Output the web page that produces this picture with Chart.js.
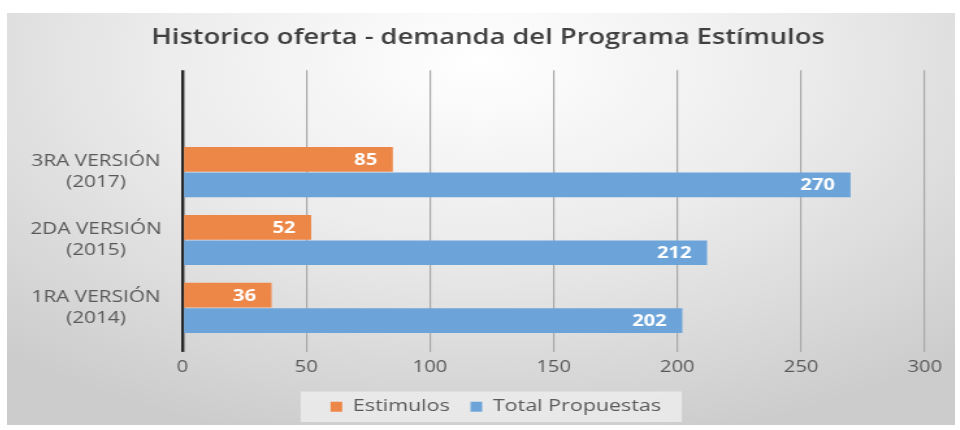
<!DOCTYPE html>
<html>
<head>
<meta charset="utf-8">
<script src="https://cdn.jsdelivr.net/npm/chart.js@4.4.0/dist/chart.umd.min.js"></script>
<style>
html, body { margin: 0; padding: 0; background: #fff; overflow: hidden; }
#panel {
  position: absolute; left: 7px; top: 13px; width: 948px; height: 412px;
  background: radial-gradient(ellipse 75% 95% at 50% 12%, #ffffff 0%, #ececec 45%, #cccccc 100%);
}
/* the original picture is stretched sideways, so the canvas is too */
#myChart { transform: scaleX(1.3); transform-origin: 0 0; }
</style>
</head>
<body>
<div id="panel"><canvas id="myChart" width="729" height="412"></canvas></div>
<script>
// chart data (top slot is empty in the original)
let categories = [[''], ['3RA VERSIÓN', '(2017)'], ['2DA VERSIÓN', '(2015)'], ['1RA VERSIÓN', '(2014)']];
let estimulos = [null, 85, 52, 36];
let totalPropuestas = [null, 270, 212, 202];
let xTicks = [0, 50, 100, 150, 200, 250, 300];

let font = 'Open Sans';
let textColor = '#595959';
let titleShift = 17;  // title sits a bit right of the canvas centre
let legendShift = 23; // so does the legend

// white value labels at the inner end of each bar
let valueLabels = {
    id: 'valueLabels',
    afterDatasetsDraw(chart) {
        let ctx = chart.ctx;
        ctx.save();
        ctx.font = 'bold 15.5px "' + font + '"';
        ctx.fillStyle = '#ffffff';
        ctx.textAlign = 'right';
        ctx.textBaseline = 'middle';
        chart.data.datasets.forEach((ds, i) => {
            chart.getDatasetMeta(i).data.forEach((bar, j) => {
                if (ds.data[j] == null) return;
                ctx.fillText(ds.data[j], bar.x - 12, bar.y + 1);
            });
        });
        ctx.restore();
    }
};

// move title + legend, and paint a light box behind the legend
let legendBox = {
    id: 'legendBox',
    afterLayout(chart) {
        chart.titleBlock.left += titleShift;
        chart.titleBlock.right += titleShift;
        chart.legend.left += legendShift;
        chart.legend.right += legendShift;
        (chart.legend.legendHitBoxes || []).forEach(b => { b.left += legendShift; });
    },
    beforeDraw(chart) {
        let boxes = chart.legend.legendHitBoxes;
        if (!boxes || !boxes.length) return;
        let left = Math.min(...boxes.map(b => b.left)) - 23;
        let right = Math.max(...boxes.map(b => b.left + b.width)) + 16;
        let top = boxes[0].top - 7;
        let ctx = chart.ctx;
        ctx.save();
        ctx.fillStyle = 'rgba(236,236,236,0.85)';
        ctx.fillRect(left, top, right - left, boxes[0].height + 14);
        ctx.restore();
    }
};

let ctx = document.getElementById('myChart');

let myChart = new Chart(ctx, {
    type: 'bar',
    data: {
        labels: categories,
        datasets: [
            {label: 'Estimulos', data: estimulos, backgroundColor: 'rgb(237,135,72)'},
            {label: 'Total Propuestas', data: totalPropuestas, backgroundColor: 'rgb(108,164,217)'}
        ]
    },
    options: {
        indexAxis: 'y',
        responsive: false,
        animation: false,
        categoryPercentage: 0.75,
        barPercentage: 0.97,
        layout: {padding: {left: 0, right: 23, top: 0, bottom: 0}},
        plugins: {
            title: {
                display: true,
                text: 'Historico oferta - demanda del Programa Estímulos',
                color: '#404040',
                font: {family: font, size: 21, weight: '600'},
                padding: {top: 12, bottom: 20}
            },
            legend: {
                position: 'bottom',
                labels: {
                    color: textColor,
                    font: {family: font, size: 16.5},
                    boxWidth: 9,
                    boxHeight: 10,
                    padding: 16
                }
            },
            tooltip: {enabled: false}
        },
        scales: {
            x: {
                min: 0,
                max: 300,
                afterBuildTicks: s => { s.ticks = xTicks.map(v => ({value: v})); },
                border: {display: false},
                grid: {
                    color: c => c.tick && c.tick.value === 0 ? '#262626' : '#a8a8a8',
                    lineWidth: c => c.tick && c.tick.value === 0 ? 2.4 : 1.2,
                    tickLength: 10
                },
                ticks: {color: textColor, font: {family: font, size: 15.5}, padding: 6}
            },
            y: {
                afterFit: s => { s.width = 135; },
                grid: {display: false},
                border: {display: false},
                ticks: {color: textColor, font: {family: font, size: 16, lineHeight: 1.3}, padding: 8, crossAlign: 'center'}
            }
        }
    },
    plugins: [valueLabels, legendBox]
});
</script>
</body>
</html>
